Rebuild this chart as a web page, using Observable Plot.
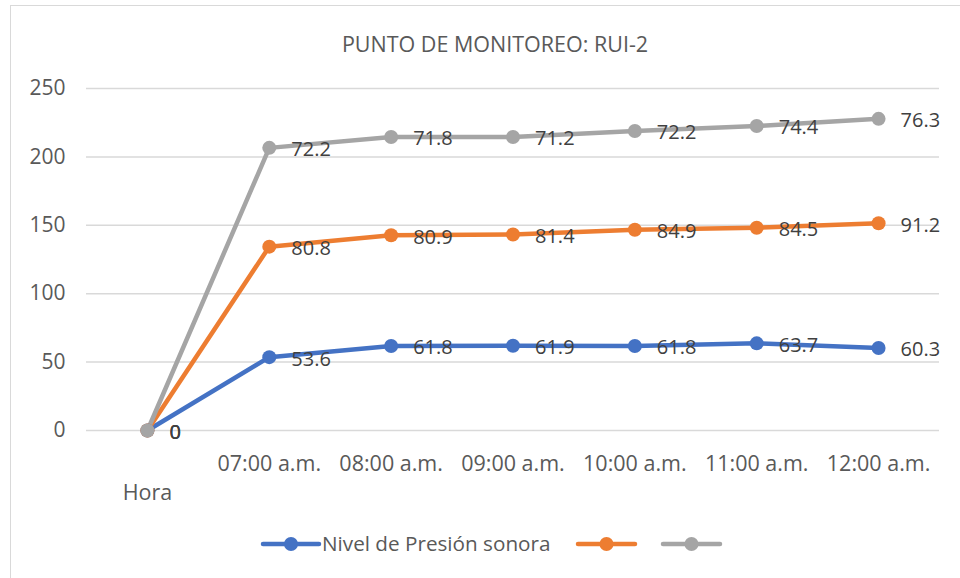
<!DOCTYPE html>
<html><head><meta charset="utf-8">
<script src="https://cdn.jsdelivr.net/npm/d3@7"></script>
<script src="https://cdn.jsdelivr.net/npm/@observablehq/plot@0.6"></script>
<style>
body{margin:0;background:#fff;font-family:"Open Sans",sans-serif;}
#wrap{position:relative;width:960px;height:578px;overflow:hidden;background:#fff;}
#frame{position:absolute;left:10px;top:5px;width:1000px;height:700px;border:1.5px solid #d9d9d9;}
#title{position:absolute;left:0;width:990px;top:29px;text-align:center;font-size:21.5px;color:#595959;}
#chart{position:absolute;left:0;top:0;}
#legend{position:absolute;left:0;top:528px;}
</style></head>
<body><div id="wrap"><div id="frame"></div><div id="title">PUNTO DE MONITOREO: RUI-2</div><div id="chart"></div><div id="legend"></div></div>
<script>
const horas = ["Hora","07:00 a.m.","08:00 a.m.","09:00 a.m.","10:00 a.m.","11:00 a.m.","12:00 a.m."];
const nivel = [0,53.6,61.8,61.9,61.8,63.7,60.3];
const serie2 = [0,80.8,80.9,81.4,84.9,84.5,91.2];
const serie3 = [0,72.2,71.8,71.2,72.2,74.4,76.3];
const seriesNames = ["Nivel de Presión sonora","",""];
const seriesColors = ["#4472C4","#ED7D31","#A5A5A5"];
const yTicks = [0,50,100,150,200,250];

const allSeries = [nivel, serie2, serie3];
const data = [];
allSeries.forEach((vals, s) => vals.forEach((v, i) => data.push({h: horas[i], v, s, c: seriesColors[s]})));

const common = {x: "h", y: "v", z: "s"};
const chart = Plot.plot({
  width: 960, height: 578,
  marginTop: 88, marginBottom: 148, marginLeft: 86, marginRight: 21,
  style: {color: "#595959", fontFamily: "'Open Sans', sans-serif", background: "transparent"},
  x: {type: "point", domain: horas, padding: 0.5, round: false, label: null},
  y: {domain: [0, 250], label: null},
  marks: [
    Plot.ruleY(yTicks, {stroke: "#d9d9d9", strokeWidth: 1.5}),
    Plot.axisY({ticks: yTicks, tickSize: 0, tickPadding: 21, fontSize: 21, label: null}),
    Plot.axisX({tickSize: 0, tickPadding: 20, fontSize: 21.5, lineHeight: 1.35, label: null,
      tickFormat: d => d === "Hora" ? "\nHora" : d}),
    Plot.line(data, Plot.stackY2({...common, stroke: "c", strokeWidth: 4.5, strokeLinejoin: "round"})),
    Plot.dot(data, Plot.stackY2({...common, fill: "c", r: 7, stroke: null})),
    Plot.text(data, Plot.stackY2({...common, text: d => String(d.v), textAnchor: "start", dx: 22, dy: 2,
      fontSize: 20, fill: "#404040"}))
  ]
});
document.getElementById("chart").appendChild(chart);

// legend
const lg = d3.select("#legend").append("svg").attr("width", 960).attr("height", 34);
const items = [{x: 263, w: 56}, {x: 578, w: 57}, {x: 663, w: 57}];
seriesNames.forEach((name, i) => {
  const g = lg.append("g");
  const it = items[i];
  g.append("line").attr("x1", it.x).attr("x2", it.x + it.w).attr("y1", 16).attr("y2", 16)
    .attr("stroke", seriesColors[i]).attr("stroke-width", 4.5).attr("stroke-linecap", "round");
  g.append("circle").attr("cx", it.x + it.w / 2).attr("cy", 16).attr("r", 7).attr("fill", seriesColors[i]);
  if (name) g.append("text").attr("x", it.x + it.w + 3).attr("y", 16).attr("dy", "0.35em")
    .attr("font-size", 20.7).attr("fill", "#595959").attr("font-family", "'Open Sans', sans-serif").text(name);
});
</script></body></html>
